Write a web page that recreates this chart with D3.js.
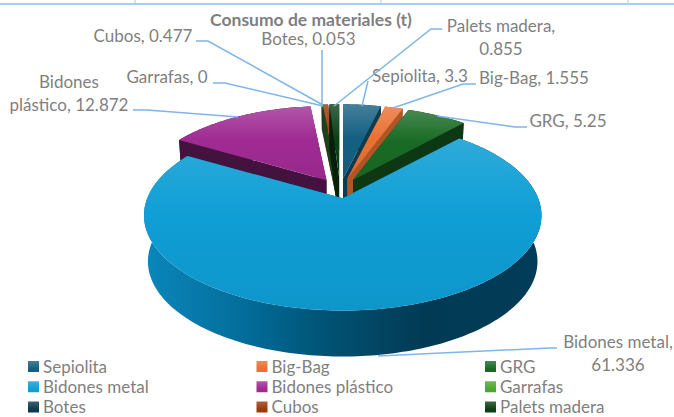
<!DOCTYPE html>
<html><head><meta charset="utf-8">
<script src="https://cdn.jsdelivr.net/npm/d3@7"></script>
<style>html,body{margin:0;padding:0;background:#fff}svg{display:block}text{font-family:Lato,"Open Sans",sans-serif}</style>
</head><body><div id="c"></div>
<script>
const categories = ["Sepiolita","Big-Bag","GRG","Bidones metal","Bidones plástico","Garrafas","Botes","Cubos","Palets madera"];
const values = [3.3,1.555,5.25,61.336,12.872,0,0.053,0.477,0.855];
const valueLabels = ["3.3","1.555","5.25","61.336","12.872","0","0.053","0.477","0.855"];
const colors = ["#156082","#E97132","#196B24","#0F9ED5","#A02B93","#4EA72E","#0D3A4E","#9A3B0B","#0F4015"];
const title = "Consumo de materiales (t)";

const W = 674, H = 417;
const svg = d3.select("#c").append("svg").attr("width", W).attr("height", H);
const defs = svg.append("defs");

// page furniture: table rule above the chart
const rule = "#a8cdf0";
svg.append("line").attr("x1",0).attr("x2",W).attr("y1",4).attr("y2",4).attr("stroke",rule).attr("stroke-width",2);
[135,381,628].forEach(x=>svg.append("line").attr("x1",x).attr("x2",x).attr("y1",0).attr("y2",4).attr("stroke",rule));

// perspective projection of the unit disc
const CX = 340, CY = 190, A = 195.5, B = 92, P = 0.18, DEPTH = 46, BOTTOM = 0.98;
const project = (u,v) => { const w = 1 - P*v; return [A*u/w, B*v/w]; };
const explode = [.13,.13,.13,.09,.13,.13,.13,.13,.13];
const radius  = [.95,.95,.95,1,.95,.95,.95,.95,.95];
const depthK  = [1,1,1,1,1,1,.55,.55,1];
const wallK   = [.38,.25,.48,.55,.58,.5,.3,.3,.5];
const topLift = [.2,.2,.2,.13,.2,.2,.2,.2,.2];
const wallColors = ["#156082","#E97132","#196B24","#0F9ED5","#A02B93","#4EA72E","#2d5a28","#2d5a28","#0F4015"];

const pie = d3.pie().sort(null).value(d=>d);
const arcs = pie(values);

function slice(i){
  const a = arcs[i], mid = (a.startAngle+a.endAngle)/2;
  const off = project(Math.sin(mid)*explode[i], -Math.cos(mid)*explode[i]);
  const ox = CX+off[0], oy = CY+off[1], r = radius[i];
  const pt = t => { const p = project(Math.sin(t),-Math.cos(t)); return [ox+p[0]*r, oy+p[1]*r]; };
  const n = Math.max(2, Math.ceil((a.endAngle-a.startAngle)/0.02));
  const rim = d3.range(n+1).map(k=>pt(a.startAngle+(a.endAngle-a.startAngle)*k/n));
  return {i, apex:[ox,oy], rim, pt, mid, ox};
}
const line = d3.line();

function grad(id, stops, horiz, box){
  const g = defs.append("linearGradient").attr("id",id).attr("gradientUnits","userSpaceOnUse")
    .attr("x1",box[0]).attr("y1",box[1]).attr("x2",horiz?box[2]:box[0]).attr("y2",horiz?box[1]:box[3]);
  stops.forEach(s=>g.append("stop").attr("offset",s[0]).attr("stop-color",s[1]));
  return `url(#${id})`;
}
const lite = (c,k) => d3.interpolateRgb(c,"#fff")(k);
const shade = (c,k) => d3.interpolateRgb(c,"#000")(k);

function draw(i){
  if (values[i] <= 0) return;
  const s = slice(i), c = colors[i], rim = s.rim;
  const down = p => [s.ox+(p[0]-s.ox)*BOTTOM, p[1]+DEPTH*depthK[i]];
  const xs = rim.map(p=>p[0]).concat(s.apex[0]), ys = rim.map(p=>p[1]).concat(s.apex[1]);
  const box = [d3.min(xs), d3.min(ys), d3.max(xs), d3.max(ys)];
  const g = svg.append("g").attr("class","slice").datum(categories[i]);
  const wallC = shade(wallColors[i], wallK[i]);
  // cut faces
  [rim[0], rim[rim.length-1]].forEach(p=>{
    g.append("path").attr("d", line([s.apex,p,down(p),down(s.apex)])+"Z").attr("fill",wallC);
  });
  // outer wall
  const wallPts = rim.concat(rim.slice().reverse().map(down));
  const wallFill = i===3
    ? grad("wall"+i,[[0,"#0a87bb"],[.25,"#036d9b"],[.43,"#005678"],[.7,"#023a54"],[1,"#013c58"]],true,[box[0],0,box[2],0])
    : wallC;
  g.append("path").attr("d", line(wallPts)+"Z").attr("fill",wallFill);
  // top face
  const top = grad("top"+i,[[0,lite(c,topLift[i])],[.45,c],[1,shade(c,.05)]],false,box);
  const face = line([s.apex].concat(rim))+"Z";
  g.append("path").attr("d",face).attr("fill",top);
}
// painter's order: far slices first, the large front slice last
[4,5,6,7,8,0,1,2,3].forEach(draw);

// title
svg.append("text").attr("x",311).attr("y",26).attr("text-anchor","middle")
  .attr("font-size",17.5).attr("font-weight",700).attr("fill","#7f7f7f").text(title);

// data labels: leader route points are label layout
const labelLayout = [
 {i:0, lines:["Sepiolita, "+valueLabels[0]], x:420, y:82, leader:[[368,81],[362,106]]},
 {i:1, lines:["Big-Bag, "+valueLabels[1]], x:534, y:84, leader:[[476,84],[463,84],[393,108]]},
 {i:2, lines:["GRG, "+valueLabels[2]], x:568, y:127, leader:[[527,127],[515,127],[437,116]]},
 {i:3, lines:["Bidones metal,",valueLabels[3]], x:618, y:348, leader:[[557,348],[550,348],[378,356]]},
 {i:4, lines:["Bidones","plástico, "+valueLabels[4]], x:69, y:88, leader:[[133,110],[147,110],[238,117]]},
 {i:5, lines:["Garrafas, "+valueLabels[5]], x:167, y:83, leader:[[213,83],[225,83],[323,106]]},
 {i:6, lines:["Botes, "+valueLabels[6]], x:308.5, y:45, leader:[[322,50],[322,105]]},
 {i:7, lines:["Cubos, "+valueLabels[7]], x:143, y:42, leader:[[196,41],[208,41],[323,105]]},
 {i:8, lines:["Palets madera,",valueLabels[8]], x:501, y:32, leader:[[442,29],[431,29],[334,106]]}
];
labelLayout.forEach(l=>{
  svg.append("path").attr("d",line(l.leader)).attr("fill","none").attr("stroke","#7fb5e8").attr("stroke-width",1.5);
  const t = svg.append("text").attr("x",l.x).attr("y",l.y).attr("text-anchor","middle").attr("font-size",17).attr("fill","#7f7f7f");
  l.lines.forEach((s,k)=>t.append("tspan").attr("x",l.x).attr("dy",k?23:0).text(s));
});

// legend
const legendX = d3.scalePoint().domain([0,1,2]).range([28,485]);
const legendY = d3.scalePoint().domain([0,1,2]).range([372.5,413]);
categories.forEach((name,i)=>{
  const col = i%3, row = Math.floor(i/3);
  const x = legendX(col), y = legendY(row);
  const fill = grad("lg"+i,[[0,lite(colors[i],.2)],[.7,colors[i]],[1,colors[i]]],false,[x,y-11.5,x,y-.5]);
  svg.append("rect").attr("x",x).attr("y",y-11.5).attr("width",11).attr("height",11).attr("fill",fill);
  svg.append("text").attr("x",x+15).attr("y",y).attr("font-size",17).attr("fill","#7f7f7f").text(name);
});
</script></body></html>
